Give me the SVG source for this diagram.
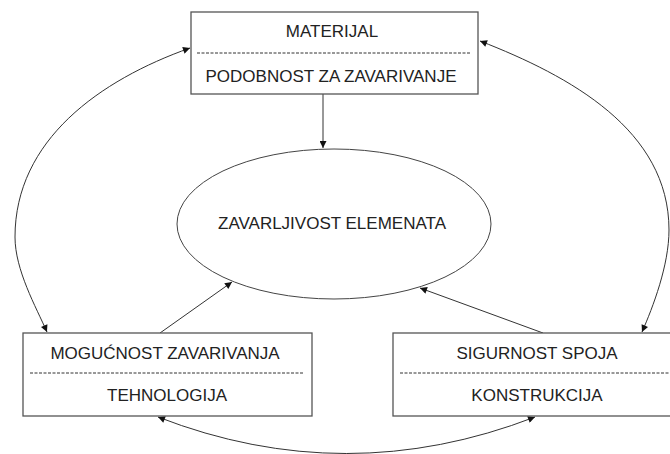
<svg xmlns="http://www.w3.org/2000/svg" width="670" height="454" viewBox="0 0 670 454">
<style>
.box{fill:#fff;stroke:#555;stroke-width:1.3}
.sep{stroke:#333;stroke-width:1;stroke-dasharray:3,1.5}
.t{font-family:"Liberation Sans",Arial,sans-serif;font-size:17px;fill:#222;text-anchor:middle}
.c{fill:none;stroke:#333;stroke-width:1}
</style>
<defs>
<marker id="ah" viewBox="0 0 10 10" refX="10" refY="5" markerWidth="9" markerHeight="7" markerUnits="userSpaceOnUse" orient="auto-start-reverse">
<path d="M0,0 L10,5 L0,10 Z" fill="#111"/>
</marker>
</defs>
<rect width="670" height="454" fill="#fff"/>
<g id="connectors">
<path class="c" d="M323,94 L323,148" marker-end="url(#ah)"/>
<path class="c" d="M160,333 L232,282" marker-end="url(#ah)"/>
<path class="c" d="M543,333 L420,288" marker-end="url(#ah)"/>
<path class="c" d="M190,48 C100,80 15,140 15,237 C15,270 36,307 47,332" marker-start="url(#ah)" marker-end="url(#ah)"/>
<path class="c" d="M480,41 C570,76 669,130 669,230 C669,265 653,307 642,332" marker-start="url(#ah)" marker-end="url(#ah)"/>
<path class="c" d="M158,417 Q346,490 535,417" marker-start="url(#ah)" marker-end="url(#ah)"/>
</g>
<g id="materijal">
<rect class="box" x="191" y="12" width="287" height="82"/>
<text class="t" x="332" y="37">MATERIJAL</text>
<line class="sep" x1="197" y1="53" x2="471" y2="53"/>
<text class="t" x="331" y="82">PODOBNOST ZA ZAVARIVANJE</text>
</g>
<g id="zavarljivost">
<ellipse cx="334" cy="224" rx="157" ry="75" fill="#fff" stroke="#444" stroke-width="1"/>
<text class="t" x="332" y="229">ZAVARLJIVOST ELEMENATA</text>
</g>
<g id="tehnologija">
<rect class="box" x="23" y="333" width="289" height="83"/>
<text class="t" x="165" y="359">MOGUĆNOST ZAVARIVANJA</text>
<line class="sep" x1="30" y1="373" x2="304" y2="373"/>
<text class="t" x="167" y="401">TEHNOLOGIJA</text>
</g>
<g id="konstrukcija">
<rect class="box" x="393" y="333" width="289" height="83"/>
<text class="t" x="537" y="359">SIGURNOST SPOJA</text>
<line class="sep" x1="400" y1="373" x2="674" y2="373"/>
<text class="t" x="537" y="401">KONSTRUKCIJA</text>
</g>
</svg>
